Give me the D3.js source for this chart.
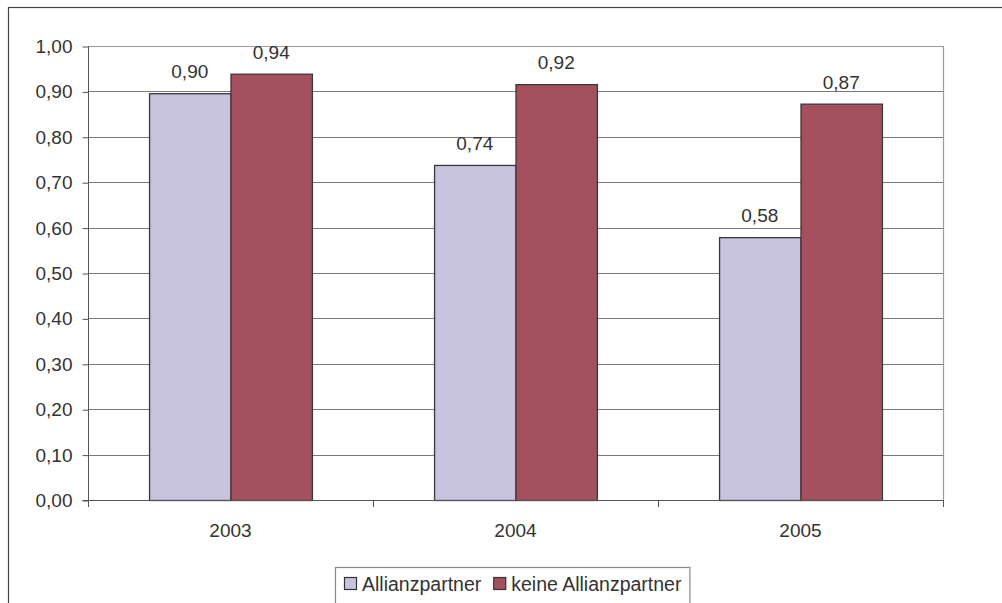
<!DOCTYPE html>
<html>
<head>
<meta charset="utf-8">
<script src="https://cdn.jsdelivr.net/npm/d3@7"></script>
<style>
  html, body { margin: 0; padding: 0; background: #fff; }
  svg { display: block; }
  text { font-family: "Liberation Sans", Arial, sans-serif; fill: #333; }
</style>
</head>
<body>
<svg id="chart" width="1002" height="603"></svg>
<script>
const categories = ["2003", "2004", "2005"];
const seriesNames = ["Allianzpartner", "keine Allianzpartner"];
const allianzValues = [0.896, 0.738, 0.579];
const keineValues = [0.939, 0.916, 0.873];
const yTicks = [0, 0.1, 0.2, 0.3, 0.4, 0.5, 0.6, 0.7, 0.8, 0.9, 1.0];
const colors = ["#C8C4E0", "#A5505E"];

const locale = d3.formatLocale({decimal: ",", thousands: ".", grouping: [3], currency: ["", " €"]});
const fmt = locale.format(".2f");

const svg = d3.select("#chart");
const plot = {left: 88, right: 943, top: 46, bottom: 500};
const FS = 19;
const LFS = 19.5;

// outer chart border (extends beyond window right/bottom)
svg.append("rect")
  .attr("x", 8.5).attr("y", 7.5).attr("width", 1010).attr("height", 620)
  .attr("fill", "#fff").attr("stroke", "#444").attr("stroke-width", 1.2);

const x = d3.scaleBand().domain(categories).range([plot.left, plot.right]).paddingInner(0).paddingOuter(0);
const xs = d3.scaleBand().domain(seriesNames).range([0, x.bandwidth()]).paddingInner(0).paddingOuter(0.75);
const y = d3.scaleLinear().domain([0, 1]).range([plot.bottom, plot.top]);

// gridlines
svg.append("g").selectAll("line").data(yTicks.filter(t => t > 0 && t < 1)).join("line")
  .attr("x1", plot.left).attr("x2", plot.right)
  .attr("y1", d => Math.round(y(d)) + 0.5).attr("y2", d => Math.round(y(d)) + 0.5)
  .attr("stroke", "#7a7a7a").attr("stroke-width", 1);

// plot area top/right border
svg.append("path")
  .attr("d", `M${plot.left},${plot.top + 0.5}H${plot.right + 0.5}V${plot.bottom}`)
  .attr("fill", "none").attr("stroke", "#a09898").attr("stroke-width", 1.2);

// bars
const data = categories.map((c, i) => ({cat: c, vals: [allianzValues[i], keineValues[i]]}));
const groups = svg.append("g").selectAll("g").data(data).join("g")
  .attr("transform", d => `translate(${x(d.cat)},0)`);
groups.selectAll("rect").data(d => d.vals.map((v, j) => ({name: seriesNames[j], v, j}))).join("rect")
  .attr("x", d => xs(d.name) + 0.5)
  .attr("y", d => y(d.v) + 0.5)
  .attr("width", xs.bandwidth())
  .attr("height", d => y(0) - y(d.v))
  .attr("fill", d => colors[d.j])
  .attr("stroke", "#383838").attr("stroke-width", 1.3);

// data labels
groups.selectAll("text.lbl").data(d => d.vals.map((v, j) => ({name: seriesNames[j], v, j}))).join("text")
  .attr("class", "lbl")
  .attr("x", d => xs(d.name) + xs.bandwidth() / 2)
  .attr("y", d => y(d.v) - 15)
  .attr("text-anchor", "middle")
  .attr("font-size", FS)
  .text(d => fmt(d.v));

// y axis
const yAxis = d3.axisLeft(y).tickValues(yTicks).tickFormat(fmt).tickSize(6).tickPadding(10);
const gy = svg.append("g").attr("transform", `translate(${plot.left + 0.5},0.5)`).call(yAxis);
gy.select(".domain").attr("stroke", "#555").attr("d", `M-6,${plot.bottom}H0V${plot.top}`);
gy.selectAll(".tick line").attr("stroke", "#555");
gy.selectAll(".tick text").attr("font-size", FS).attr("font-family", "Liberation Sans, Arial, sans-serif").attr("fill", "#333");

// x axis: baseline with boundary ticks
const boundaries = categories.map(c => x(c)).concat([x(categories[categories.length - 1]) + x.bandwidth()]);
const gx = svg.append("g");
gx.append("line").attr("x1", plot.left).attr("x2", plot.right + 1)
  .attr("y1", plot.bottom + 0.5).attr("y2", plot.bottom + 0.5).attr("stroke", "#555").attr("stroke-width", 1.2);
gx.selectAll("line.tk").data(boundaries).join("line").attr("class", "tk")
  .attr("x1", d => Math.round(d) + 0.5).attr("x2", d => Math.round(d) + 0.5)
  .attr("y1", plot.bottom).attr("y2", plot.bottom + 7).attr("stroke", "#555");
gx.selectAll("text").data(categories).join("text")
  .attr("x", d => x(d) + x.bandwidth() / 2)
  .attr("y", plot.bottom + 37)
  .attr("text-anchor", "middle").attr("font-size", FS)
  .text(d => d);

// legend
const lg = svg.append("g");
const box = lg.append("rect").attr("fill", "#fff").attr("stroke", "#888").attr("stroke-width", 1.2);
let cx = 0;
seriesNames.forEach((n, i) => {
  const g = lg.append("g");
  g.append("rect").attr("x", cx + 0.5).attr("y", -13.5).attr("width", 12).attr("height", 12)
    .attr("fill", colors[i]).attr("stroke", "#333").attr("stroke-width", 1.2);
  const t = g.append("text").attr("x", cx + 18).attr("y", 0).attr("font-size", LFS).text(n);
  const w = t.node().getComputedTextLength();
  cx += 18 + w + 12;
});
const totalW = cx - 12;
const lx = Math.round(512.5 - totalW / 2);
lg.attr("transform", `translate(${lx},591)`);
box.attr("x", -8.5).attr("y", -23.5).attr("width", totalW + 17).attr("height", 60);
</script>
</body>
</html>
